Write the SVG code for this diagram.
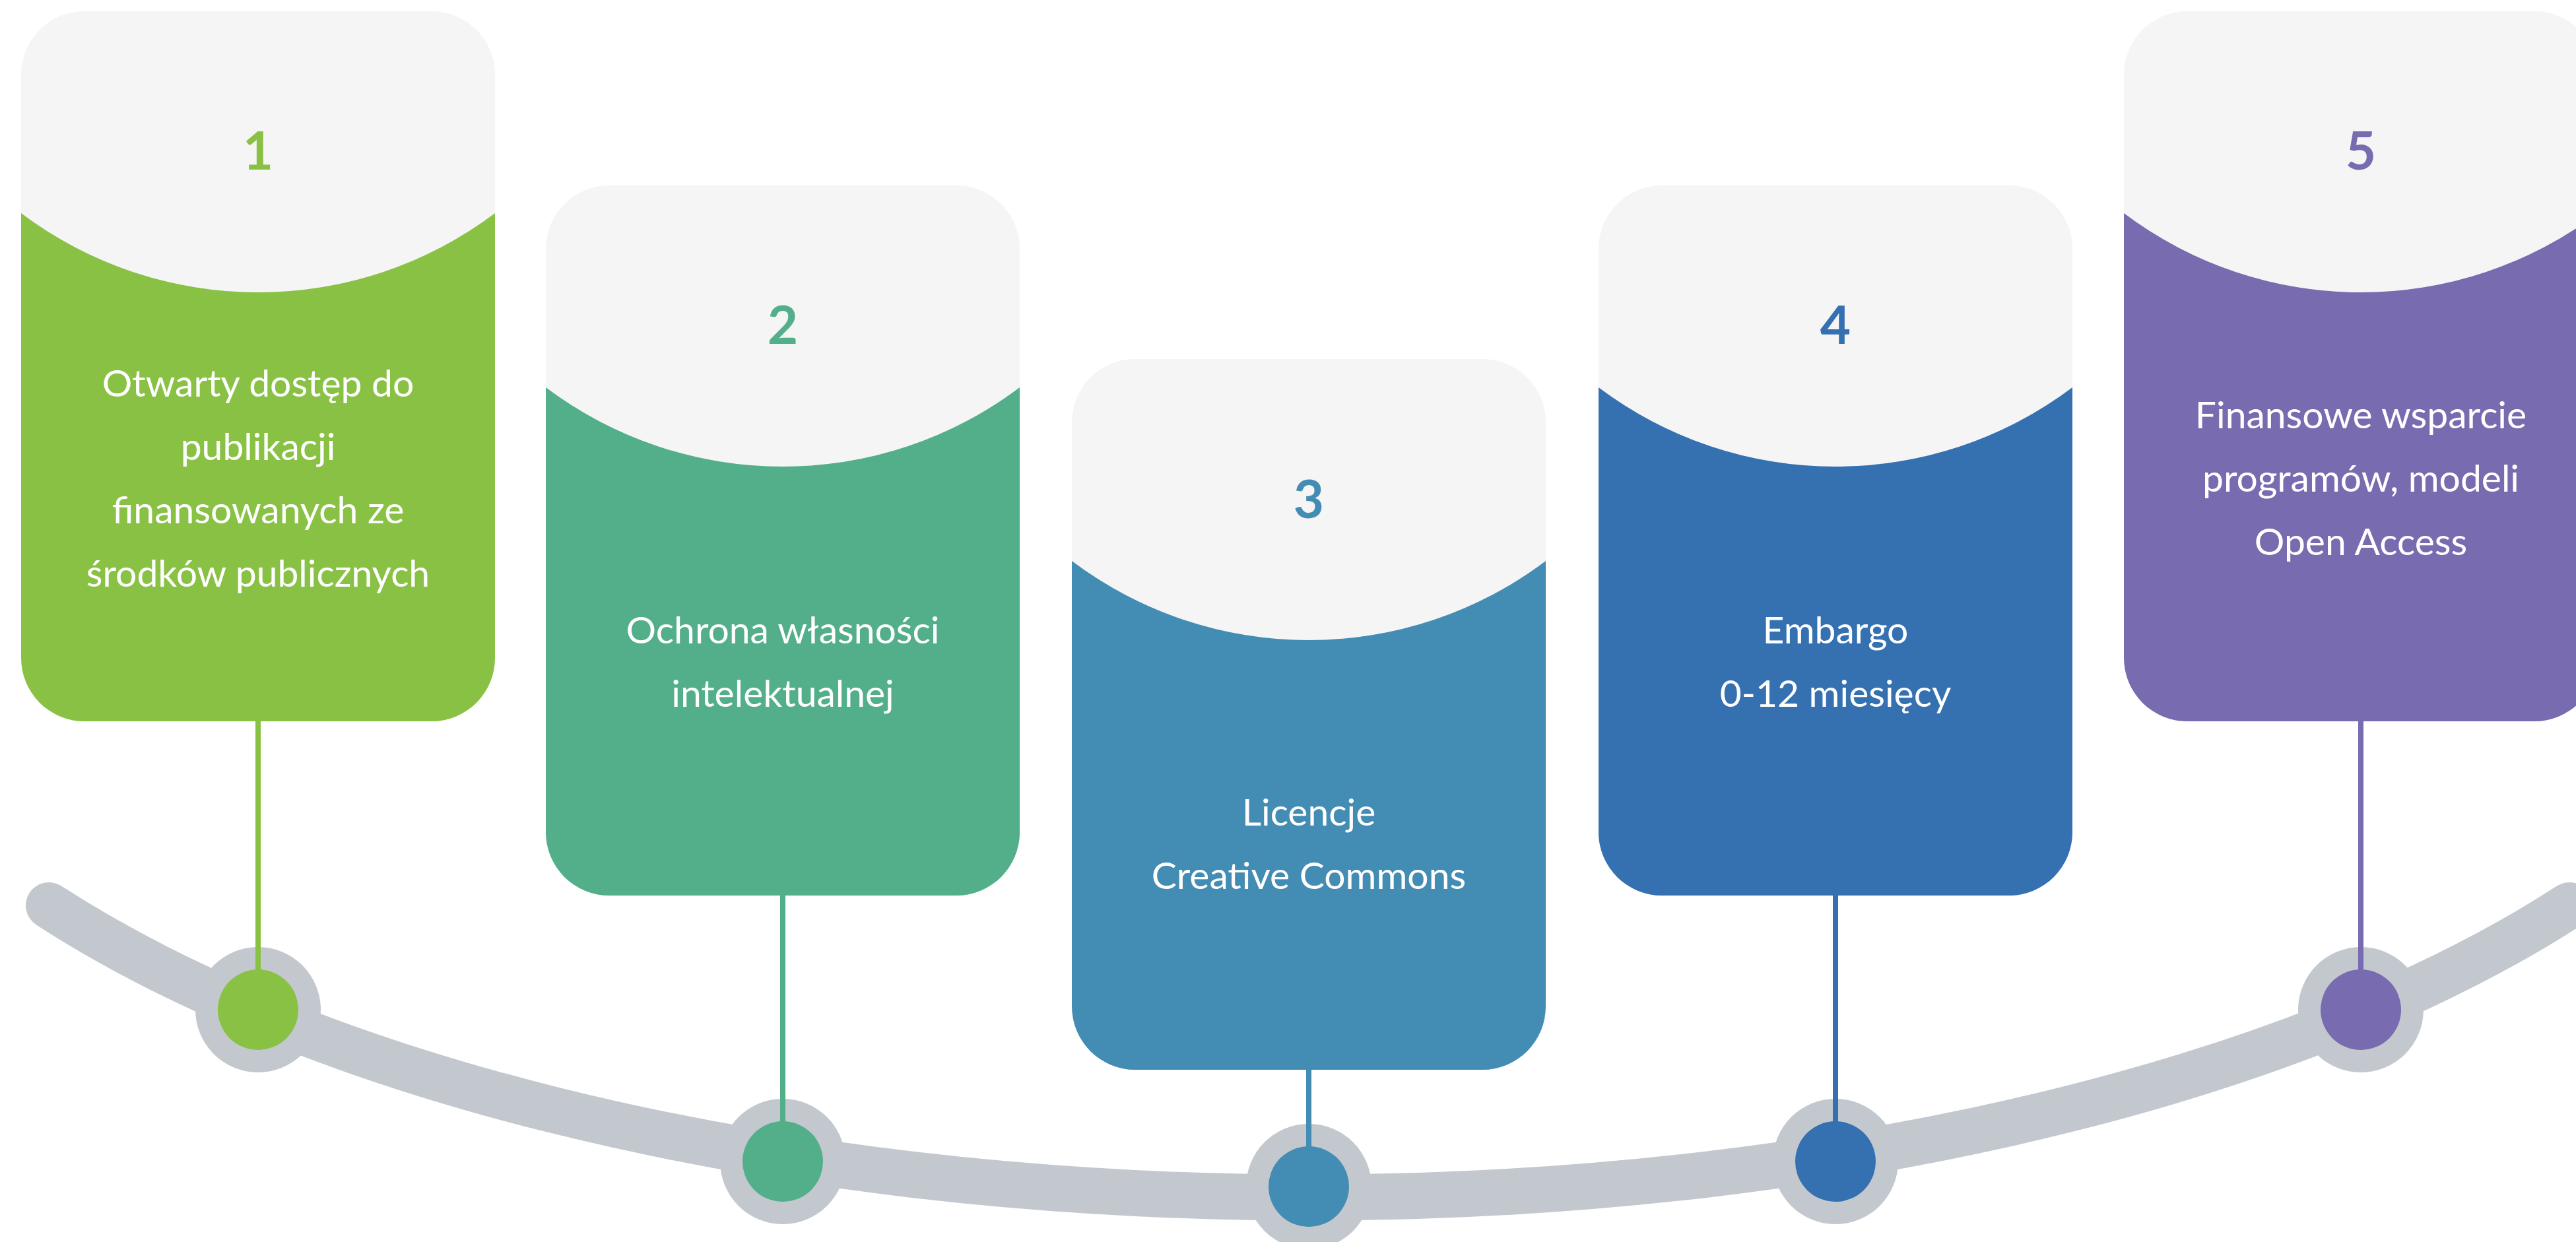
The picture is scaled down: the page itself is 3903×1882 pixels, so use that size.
<svg xmlns="http://www.w3.org/2000/svg" width="3903" height="1882" viewBox="0 0 3903 1882">
  <style>
    .top { fill: #F5F5F5; }
    .num { font-family: Lato, "Liberation Sans", sans-serif; font-weight: bold; font-size: 80px; text-anchor: middle; }
    .txt { font-family: Lato, "Liberation Sans", sans-serif; font-size: 57px; fill: #FFFFFF; text-anchor: middle; }
    .track { fill: none; stroke: #C3C8CE; stroke-width: 70; stroke-linecap: round; }
    .ring { fill: #C3C8CE; }
    .stem { stroke-width: 8; }
  </style>
  <rect width="3903" height="1882" fill="#FFFFFF"/>

  <g id="track">
    <path class="track" d="M 74 1372 A 2300 1000 0 0 0 3893 1372"/>
  </g>

  <g id="card1">
    <rect class="top" x="32" y="17" width="718" height="1076" rx="96" ry="96"/>
    <path fill="#89C144" d="M 32 323 A 597 597 0 0 0 750 323 L 750 997 A 96 96 0 0 1 654 1093 L 128 1093 A 96 96 0 0 1 32 997 Z"/>
    <text class="num" x="391" y="257" fill="#89C144">1</text>
    <text class="txt" x="391" y="601">Otwarty dostęp do</text>
    <text class="txt" x="391" y="697">publikacji</text>
    <text class="txt" x="391" y="793">finansowanych ze</text>
    <text class="txt" x="391" y="889">środków publicznych</text>
  </g>

  <g id="card2">
    <rect class="top" x="827" y="281" width="718" height="1076" rx="96" ry="96"/>
    <path fill="#52AF8A" d="M 827 587 A 597 597 0 0 0 1545 587 L 1545 1261 A 96 96 0 0 1 1449 1357 L 923 1357 A 96 96 0 0 1 827 1261 Z"/>
    <text class="num" x="1186" y="521" fill="#52AF8A">2</text>
    <text class="txt" x="1186" y="975">Ochrona własności</text>
    <text class="txt" x="1186" y="1071">intelektualnej</text>
  </g>

  <g id="card3">
    <rect class="top" x="1624" y="544" width="718" height="1077" rx="96" ry="96"/>
    <path fill="#438CB3" d="M 1624 850 A 597 597 0 0 0 2342 850 L 2342 1525 A 96 96 0 0 1 2246 1621 L 1720 1621 A 96 96 0 0 1 1624 1525 Z"/>
    <text class="num" x="1983" y="785" fill="#438CB3">3</text>
    <text class="txt" x="1983" y="1251">Licencje</text>
    <text class="txt" x="1983" y="1347">Creative Commons</text>
  </g>

  <g id="card4">
    <rect class="top" x="2422" y="281" width="718" height="1076" rx="96" ry="96"/>
    <path fill="#3570B1" d="M 2422 587 A 597 597 0 0 0 3140 587 L 3140 1261 A 96 96 0 0 1 3044 1357 L 2518 1357 A 96 96 0 0 1 2422 1261 Z"/>
    <text class="num" x="2781" y="521" fill="#3570B1">4</text>
    <text class="txt" x="2781" y="975">Embargo</text>
    <text class="txt" x="2781" y="1071">0-12 miesięcy</text>
  </g>

  <g id="card5">
    <rect class="top" x="3218" y="17" width="718" height="1076" rx="96" ry="96"/>
    <path fill="#786BB0" d="M 3218 323 A 597 597 0 0 0 3936 323 L 3936 997 A 96 96 0 0 1 3840 1093 L 3314 1093 A 96 96 0 0 1 3218 997 Z"/>
    <text class="num" x="3577" y="257" fill="#786BB0">5</text>
    <text class="txt" x="3577" y="649">Finansowe wsparcie</text>
    <text class="txt" x="3577" y="745">programów, modeli</text>
    <text class="txt" x="3577" y="841">Open Access</text>
  </g>

  <g id="connectors">
    <circle class="ring" cx="391" cy="1530" r="95"/>
    <circle class="ring" cx="1186" cy="1760" r="95"/>
    <circle class="ring" cx="1983" cy="1798" r="95"/>
    <circle class="ring" cx="2781" cy="1760" r="95"/>
    <circle class="ring" cx="3577" cy="1530" r="95"/>
    <line class="stem" x1="391" y1="1093" x2="391" y2="1530" stroke="#89C144"/>
    <line class="stem" x1="1186" y1="1357" x2="1186" y2="1760" stroke="#52AF8A"/>
    <line class="stem" x1="1983" y1="1621" x2="1983" y2="1798" stroke="#438CB3"/>
    <line class="stem" x1="2781" y1="1357" x2="2781" y2="1760" stroke="#3570B1"/>
    <line class="stem" x1="3577" y1="1093" x2="3577" y2="1530" stroke="#786BB0"/>
  </g>

  <g id="dot1"><circle cx="391" cy="1530" r="61" fill="#89C144"/></g>
  <g id="dot2"><circle cx="1186" cy="1760" r="61" fill="#52AF8A"/></g>
  <g id="dot3"><circle cx="1983" cy="1798" r="61" fill="#438CB3"/></g>
  <g id="dot4"><circle cx="2781" cy="1760" r="61" fill="#3570B1"/></g>
  <g id="dot5"><circle cx="3577" cy="1530" r="61" fill="#786BB0"/></g>
</svg>
